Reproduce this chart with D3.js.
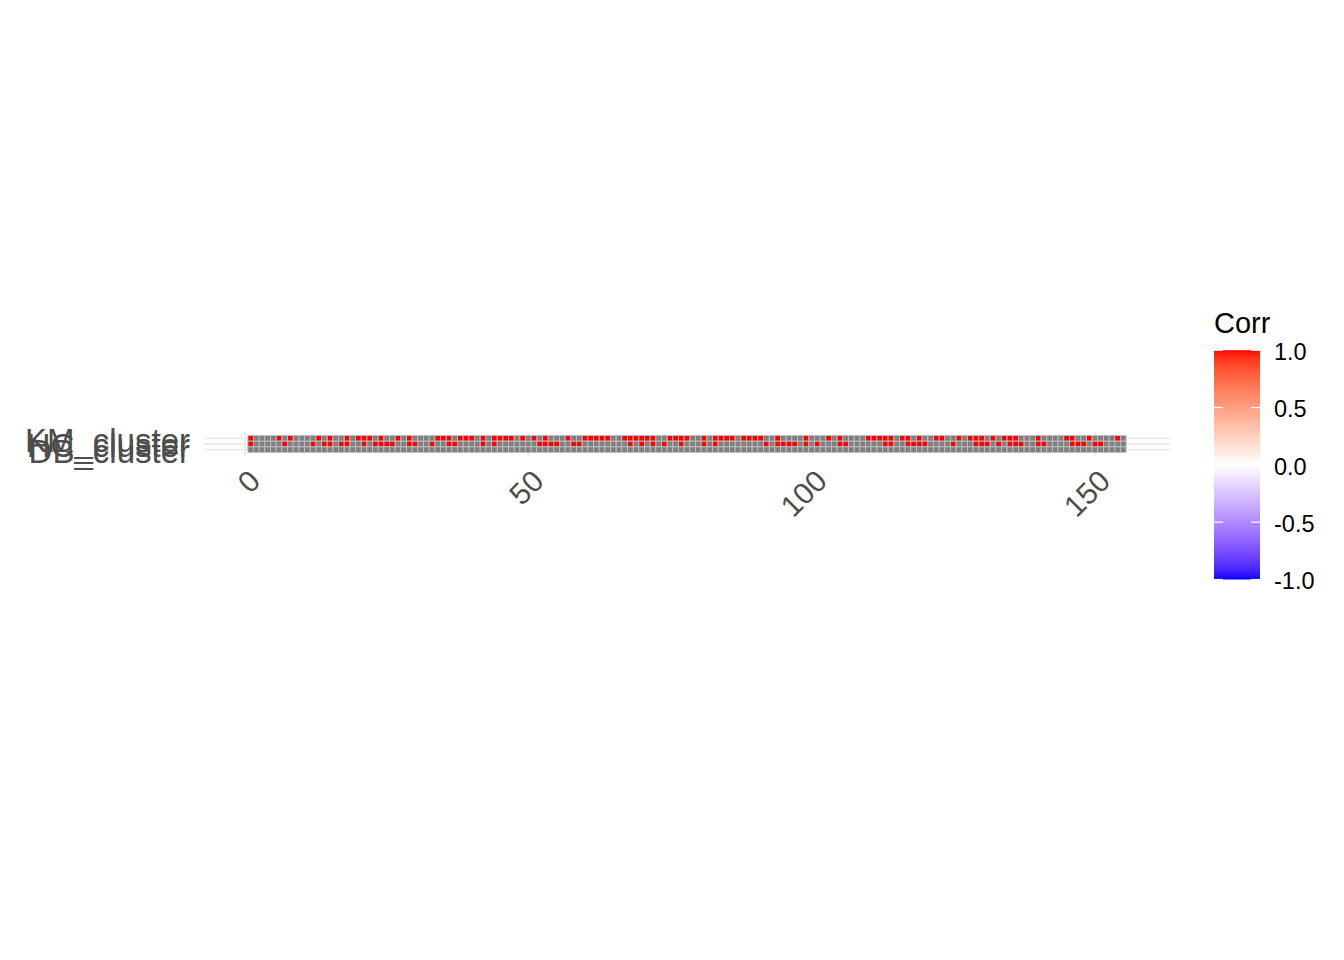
<!DOCTYPE html>
<html>
<head>
<meta charset="utf-8">
<script src="https://cdn.jsdelivr.net/npm/d3@7"></script>
<style>
  body { margin: 0; background: #fff; }
  svg { display: block; font-family: "Liberation Sans", Arial, sans-serif; }
</style>
</head>
<body>
<div id="chart"></div>
<script>
// strip rows, top to bottom
const rowLabels = ["KM_cluster", "HC_cluster", "DB_cluster"];
const obsCount = 155;

// observations where the row's cell is 1; every other cell is NA
const kmOnes = [1, 6, 8, 13, 15, 18, 20, 21, 22, 24, 27, 29, 34, 35, 36, 38, 39, 40,
  42, 44, 45, 46, 47, 49, 51, 53, 57, 60, 61, 62, 63, 64, 67, 68, 69, 70, 71, 72,
  75, 76, 77, 78, 81, 83, 84, 85, 86, 88, 89, 90, 91, 94, 99, 103, 105, 110, 111,
  112, 113, 114, 116, 117, 119, 122, 123, 126, 128, 129, 130, 132, 134, 135, 136,
  140, 145, 146, 149, 154];
const hcOnes = [1, 7, 12, 14, 15, 17, 18, 21, 23, 24, 25, 26, 29, 30, 33, 36, 37,
  42, 44, 52, 53, 54, 55, 58, 59, 68, 70, 72, 74, 77, 81, 83, 92, 94, 95, 96, 97,
  99, 101, 105, 106, 113, 114, 117, 118, 119, 120, 125, 129, 130, 131, 133, 135,
  136, 137, 140, 141, 146, 147, 148, 150, 151];
const dbOnes = [];

const xTicks = [0, 50, 100, 150];
const xMinorTicks = [25, 75, 125];
const legendTicks = [-1, -0.5, 0, 0.5, 1];
const legendLabels = ["-1.0", "-0.5", "0.0", "0.5", "1.0"];
const legendTitle = "Corr";

const width = 1344;
const height = 960;

const onesByRow = [kmOnes, hcOnes, dbOnes];
const obs = d3.range(1, obsCount + 1);
const cells = [];
rowLabels.forEach((row, r) => {
  obs.forEach((o) => {
    cells.push({ row, obs: o, value: onesByRow[r].includes(o) ? 1 : null });
  });
});

const svg = d3.select("#chart").append("svg")
  .attr("width", width)
  .attr("height", height);
svg.append("rect").attr("width", width).attr("height", height).attr("fill", "#fff");

// panel
const panelLeft = 204, panelRight = 1170;
const x = d3.scaleLinear().domain([-7.25, obsCount + 8.25]).range([panelLeft, panelRight]);
const cellW = x(1) - x(0);
const yMid = 444;
const y = d3.scaleBand().domain(rowLabels)
  .range([yMid - 1.5 * cellW, yMid + 1.5 * cellW]);
const panelTop = yMid - 2.1 * cellW, panelBottom = yMid + 2.1 * cellW;

const fill = d3.scaleLinear().domain([-1, 0, 1])
  .range(["blue", "white", "red"])
  .interpolate(d3.interpolateLab);
const naFill = "#7f7f7f";

const grid = svg.append("g").attr("stroke", "#ebebeb");
grid.selectAll(".minor-x").data(xMinorTicks).join("line")
  .attr("x1", (d) => x(d)).attr("x2", (d) => x(d))
  .attr("y1", panelTop).attr("y2", panelBottom)
  .attr("stroke-width", 0.9);
grid.selectAll(".major-x").data(xTicks).join("line")
  .attr("x1", (d) => x(d)).attr("x2", (d) => x(d))
  .attr("y1", panelTop).attr("y2", panelBottom)
  .attr("stroke-width", 1.8);
grid.selectAll(".major-y").data(rowLabels).join("line")
  .attr("x1", panelLeft).attr("x2", panelRight)
  .attr("y1", (d) => y(d) + y.bandwidth() / 2)
  .attr("y2", (d) => y(d) + y.bandwidth() / 2)
  .attr("stroke-width", 1.8);

svg.append("g").selectAll("rect").data(cells).join("rect")
  .attr("x", (d) => x(d.obs - 0.5))
  .attr("y", (d) => y(d.row))
  .attr("width", cellW)
  .attr("height", y.bandwidth())
  .attr("fill", (d) => (d.value === null ? naFill : fill(d.value)))
  .attr("stroke", "#bebebe")
  .attr("stroke-width", 0.9);

// x axis labels, rotated
svg.append("g").selectAll("text").data(xTicks).join("text")
  .attr("transform", (d) => `translate(${x(d) + 2},468) rotate(-45)`)
  .attr("text-anchor", "end")
  .attr("dy", "0.71em")
  .attr("font-size", 30)
  .attr("fill", "#4d4d4d")
  .text((d) => d);

// y axis labels
svg.append("g").selectAll("text").data(rowLabels).join("text")
  .attr("x", 190)
  .attr("y", (d) => y(d) + y.bandwidth() / 2)
  .attr("dy", "0.4em")
  .attr("text-anchor", "end")
  .attr("font-size", 33)
  .attr("fill", "#4d4d4d")
  .text((d) => d);

// legend
const legX = 1214, legW = 46;
const ly = d3.scaleLinear().domain([-1, 1]).range([579.5, 350.2]);
const grad = svg.append("defs").append("linearGradient")
  .attr("id", "corr-grad")
  .attr("x1", 0).attr("y1", 1).attr("x2", 0).attr("y2", 0);
grad.selectAll("stop").data(d3.range(0, 1.0001, 0.02)).join("stop")
  .attr("offset", (d) => d)
  .attr("stop-color", (d) => fill(d * 2 - 1));

svg.append("text")
  .attr("x", legX).attr("y", 333)
  .attr("font-size", 29)
  .attr("fill", "#000")
  .text(legendTitle);

svg.append("rect")
  .attr("x", legX).attr("y", ly(1))
  .attr("width", legW).attr("height", ly(-1) - ly(1))
  .attr("fill", "url(#corr-grad)");

const lt = svg.append("g").attr("stroke", "#fff").attr("stroke-width", 1.2);
lt.selectAll(".tl").data(legendTicks).join("line")
  .attr("x1", legX).attr("x2", legX + 9)
  .attr("y1", (d) => ly(d)).attr("y2", (d) => ly(d));
lt.selectAll(".tr").data(legendTicks).join("line")
  .attr("x1", legX + legW - 9).attr("x2", legX + legW)
  .attr("y1", (d) => ly(d)).attr("y2", (d) => ly(d));

svg.append("g").selectAll("text").data(legendTicks).join("text")
  .attr("x", legX + 60)
  .attr("y", (d) => ly(d))
  .attr("dy", "0.42em")
  .attr("font-size", 23.5)
  .attr("fill", "#000")
  .text((d, i) => legendLabels[i]);
</script>
</body>
</html>
